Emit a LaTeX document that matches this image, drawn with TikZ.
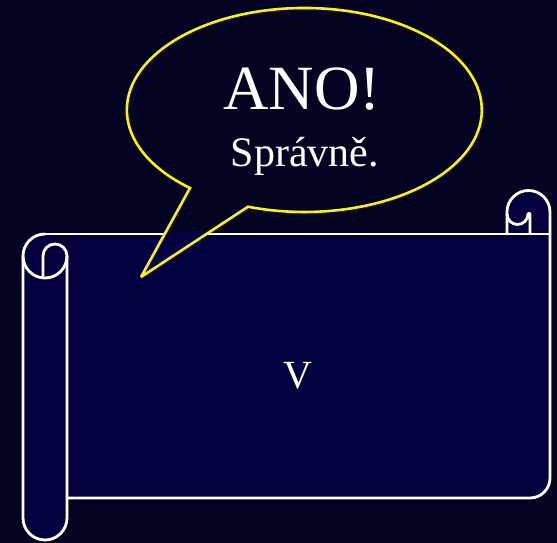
\documentclass[tikz,border=0pt]{standalone}
\usepackage{fontspec}
\setmainfont{Liberation Serif}
\usetikzlibrary{calc}

\definecolor{bgnavy}{RGB}{4,3,34}
\definecolor{scrollblue}{RGB}{2,0,62}
\definecolor{bubbleyellow}{RGB}{255,245,0}

\newcommand{\bubbleoutline}{(141,266) -- (190,355)
    arc[start angle=229.9, end angle=-108.5, x radius=177.5pt, y radius=102pt] -- cycle}

\begin{document}
\begin{tikzpicture}[
    x=1pt, y=1pt,
    % Estilos
    scrollfill/.style={fill=scrollblue},
    scrollline/.style={draw=white, line width=2.8pt, line join=round, line cap=round},
    bubbleline/.style={draw=bubbleyellow, line width=2.6pt, line join=miter, miter limit=1.5},
    bigtext/.style={text=white, anchor=base, inner sep=0pt}
]

% fondo
\fill[bgnavy] (0,0) rectangle (557,543);
\useasboundingbox (0,0) rectangle (557,543);

% -------------------------
% PERGAMINO
% -------------------------
% relleno del cuerpo y rollo derecho
\fill[scrollfill] (45,310) -- (507,310) -- (507,331)
    arc[start angle=180, end angle=0, radius=21.5pt] -- (550,65)
    arc[start angle=0, end angle=-90, radius=20pt] -- (67,45) -- (67,310) -- cycle;
% relleno del rollo izquierdo
\fill[scrollfill] (23,287) -- (23,25)
    arc[start angle=180, end angle=360, radius=22pt] -- (67,287)
    arc[start angle=0, end angle=180, radius=22pt] -- cycle;

% contorno del cuerpo
\draw[scrollline] (45,309) -- (550,309);
\draw[scrollline] (507,310) -- (507,331)
    arc[start angle=180, end angle=0, radius=21.5pt] -- (550,65)
    arc[start angle=0, end angle=-90, radius=20pt] -- (67,45);
% rizo derecho
\draw[scrollline] (507,329) arc[start angle=180, end angle=360, radius=10.5pt]
    to[out=90, in=90] (530,329) -- (530,310);

% rollo izquierdo
\draw[scrollline] (45,309) arc[start angle=90, end angle=180, radius=22pt]
    -- (23,25) arc[start angle=180, end angle=360, radius=22pt] -- (67,287);
\draw[scrollline] (23,287) arc[start angle=180, end angle=360, radius=22pt];
\draw[scrollline] (43,265.2) -- (43,287) arc[start angle=180, end angle=0, radius=12pt];

\node[bigtext, font=\fontsize{40}{40}\selectfont] (letra) at (298,154) {V};

% -------------------------
% BOCADILLO
% -------------------------
\begin{scope}
    \clip (0,0) rectangle (557,311.8);
    \fill[scrollfill] \bubbleoutline;
\end{scope}
\draw[bubbleline] \bubbleoutline;

\node[bigtext, font=\fontsize{63}{63}\selectfont] (ano) at (302,433) {ANO!};
\node[bigtext, font=\fontsize{42}{42}\selectfont] (spravne) at (305,376) {Správně.};

\end{tikzpicture}
\end{document}
